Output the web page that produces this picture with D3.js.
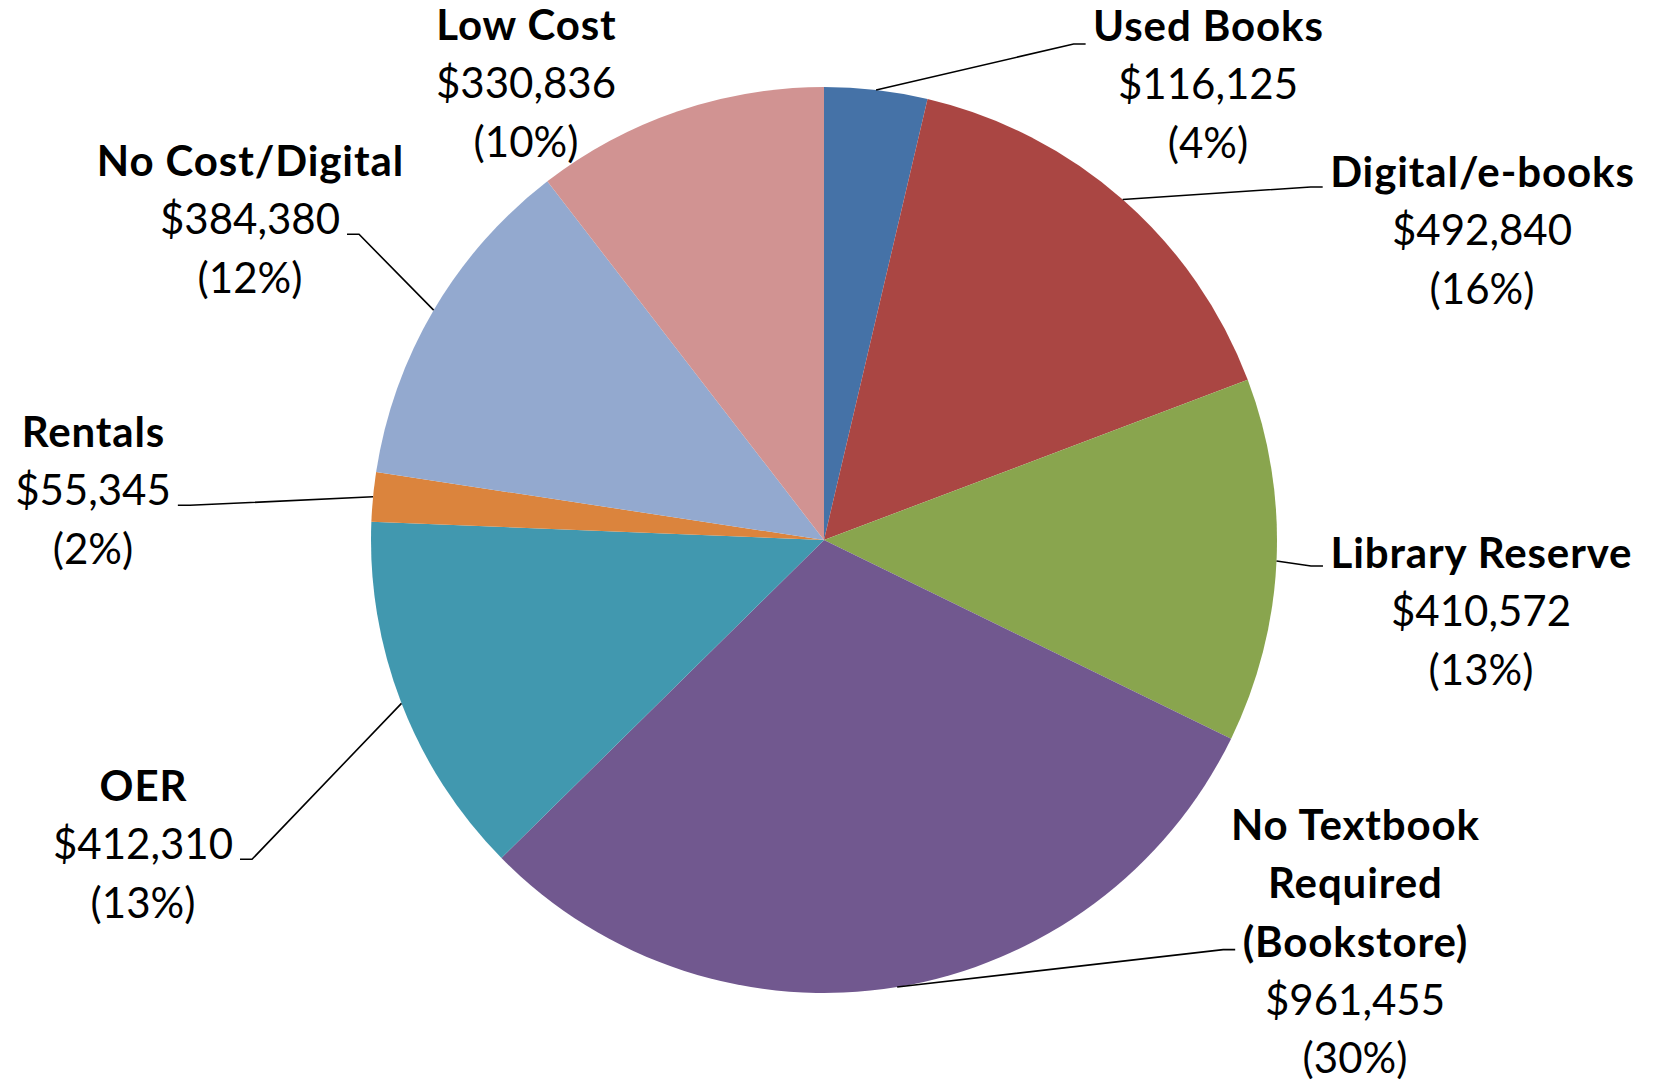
<!DOCTYPE html>
<html><head><meta charset="utf-8">
<script src="https://cdn.jsdelivr.net/npm/d3@7"></script>
<style>html,body{margin:0;padding:0;background:#fff;} svg{display:block;}</style>
</head><body>
<svg id="chart" width="1654" height="1081"></svg>
<script>
// ---- data ----
const categories = ["Used Books","Digital/e-books","Library Reserve","No Textbook Required (Bookstore)","OER","Rentals","No Cost/Digital","Low Cost"];
const nameLines = [["Used Books"],["Digital/e-books"],["Library Reserve"],["No Textbook","Required","(Bookstore)"],["OER"],["Rentals"],["No Cost/Digital"],["Low Cost"]];
const values = [116125,492840,410572,961455,412310,55345,384380,330836];
const colors = ["#4572A7","#AA4643","#89A54E","#71588F","#4198AF","#DB843D","#93A9CF","#D19392"];

// ---- layout (label placement) ----
const labelLayout = [
  {cx:1208, y0:41,  side:"left",  line:0, dy:3},
  {cx:1482, y0:187, side:"left",  line:0, dy:0},
  {cx:1481, y0:568, side:"left",  line:0, dy:-2},
  {cx:1355, y0:840, side:"left",  line:2, dy:-7},
  {cx:143,  y0:801, side:"right", line:1, dy:0},
  {cx:93,   y0:447, side:"right", line:1, dy:0},
  {cx:250,  y0:176, side:"right", line:1, dy:0},
  {cx:526,  y0:40,  side:null}
];

const W = 1654, H = 1081;
const cx = 824, cy = 540, R = 453;
const fontSize = 42, lineH = 58.3, gap = 7, stub = 12, boldSpacing = 0.9;
const fontFamily = "Lato, 'Open Sans', sans-serif";

const svg = d3.select("#chart");
const total = d3.sum(values);
const pie = d3.pie().sort(null).value(d => d)(values);
const arc = d3.arc().innerRadius(0).outerRadius(R);
const edgeArc = d3.arc().innerRadius(R).outerRadius(R);

const g = svg.append("g").attr("transform", `translate(${cx},${cy})`);
g.selectAll("path.slice").data(pie).join("path")
  .attr("class","slice")
  .attr("d", arc)
  .attr("fill", (d,i) => colors[i]);

const fmtVal = d3.format("$,");
const labels = svg.append("g");

pie.forEach((d, i) => {
  const lay = labelLayout[i];
  const lines = nameLines[i].map(t => ({t, bold:true}))
    .concat([{t: fmtVal(values[i]), bold:false}, {t: "(" + Math.round(values[i]/total*100) + "%)", bold:false}]);
  const tg = labels.append("g");
  const nodes = [];
  lines.forEach((ln, k) => {
    const t = tg.append("text")
      .attr("x", lay.cx + (ln.bold ? boldSpacing/2 : 0))
      .attr("y", lay.y0 + k*lineH)
      .attr("text-anchor","middle")
      .attr("font-family", fontFamily)
      .attr("font-size", fontSize)
      .attr("font-weight", ln.bold ? "bold" : "normal")
      .attr("letter-spacing", ln.bold ? boldSpacing : 0)
      .attr("fill","#000")
      .text(ln.t);
    nodes.push(t);
  });
  if (lay.side) {
    const k = lay.line;
    const w = nodes[k].node().getComputedTextLength();
    const y = lay.y0 + k*lineH + lay.dy;
    const p = edgeArc.centroid(d);
    const px = cx + p[0], py = cy + p[1];
    let x1, x2;
    if (lay.side === "left") { x2 = lay.cx - w/2 - gap; x1 = x2 - stub; }
    else { x2 = lay.cx + w/2 + gap; x1 = x2 + stub; }
    labels.append("path")
      .attr("d", d3.line()([[px,py],[x1,y],[x2,y]]))
      .attr("fill","none")
      .attr("stroke","#000")
      .attr("stroke-width",1.6);
  }
});
</script>
</body></html>
